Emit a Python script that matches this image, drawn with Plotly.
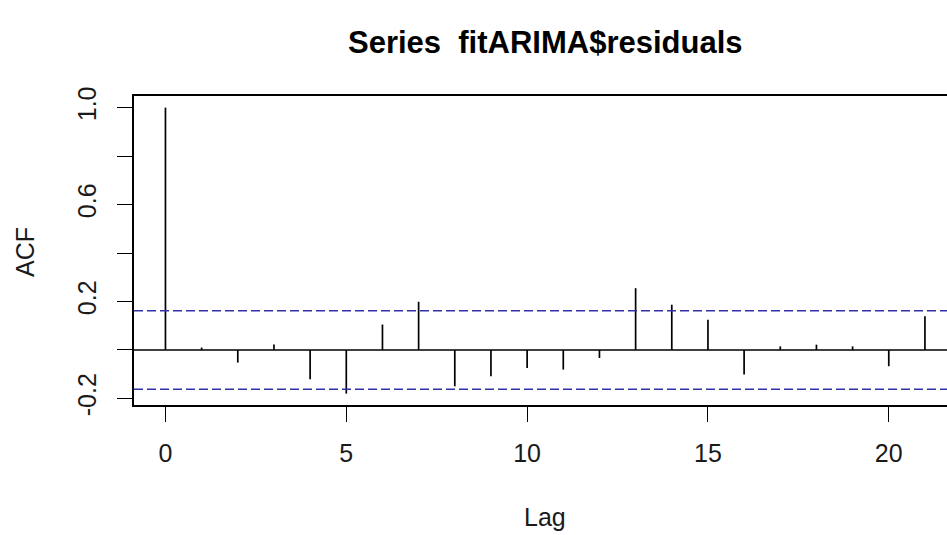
import plotly.graph_objects as go

# ACF values
lags = list(range(0, 22))
acf = [1.0, 0.010, -0.052, 0.023, -0.121, -0.180, 0.105, 0.199, -0.150, -0.108,
       -0.074, -0.081, -0.033, 0.255, 0.187, 0.125, -0.101, 0.015, 0.022, 0.015,
       -0.067, 0.139]
ci = 0.162
x_ticks = [0, 5, 10, 15, 20]
y_ticks = [-0.2, 0.0, 0.2, 0.4, 0.6, 0.8, 1.0]
y_tick_text = ["-0.2", "", "0.2", "", "0.6", "", "1.0"]

W, H = 947, 535
ML, MR, MT, MB = 134, 0, 96, 130
x_range = [-0.87, 21.61]
y_range = [-0.227, 1.048]

FONT = "Liberation Sans, Arial, sans-serif"

bx, by = [], []
for l, v in zip(lags, acf):
    bx += [l, l, None]
    by += [0, v, None]

fig = go.Figure()
fig.add_trace(go.Scatter(x=bx, y=by, mode="lines",
                         line=dict(color="black", width=1.7),
                         hoverinfo="skip", showlegend=False))

# zero line and confidence bounds
for yv, col, dash, w in [(0, "black", "solid", 1.5), (ci, "#3030a8", "9px,4px", 1.6),
                         (-ci, "#3030a8", "9px,4px", 1.6)]:
    fig.add_shape(type="line", xref="paper", yref="y", x0=0, x1=1, y0=yv, y1=yv,
                  line=dict(color=col, width=w, dash=dash), layer="above")

fig.update_layout(
    width=W, height=H,
    margin=dict(l=ML, r=MR, t=MT, b=MB, pad=0),
    paper_bgcolor="white", plot_bgcolor="white",
    font=dict(family=FONT, color="#1a1a1a", size=25),
    xaxis=dict(range=x_range, tickvals=x_ticks, ticktext=[str(t) for t in x_ticks],
               showgrid=False, zeroline=False, showline=True, mirror=True,
               linecolor="black", linewidth=1.5, ticks="outside", ticklen=15,
               tickwidth=1.4, tickcolor="black", ticklabelstandoff=10,
               tickfont=dict(size=25, family=FONT, color="#1a1a1a")),
    yaxis=dict(range=y_range, tickvals=y_ticks, ticktext=y_tick_text,
               showgrid=False, zeroline=False, showline=True, mirror=False,
               linecolor="black", linewidth=1.5, ticks="outside", ticklen=15,
               tickwidth=1.4, tickcolor="black", tickangle=-90,
               ticklabelstandoff=11,
               tickfont=dict(size=25, family=FONT, color="#1a1a1a")),
    annotations=[
        dict(text="<b>Series \u00a0fitARIMA$residuals</b>", xref="paper", yref="paper",
             x=(545 - ML) / (W - ML - MR), y=1 + (MT - 42) / (H - MT - MB),
             xanchor="center", yanchor="middle", showarrow=False,
             font=dict(size=31, family=FONT, color="black")),
        dict(text="Lag", xref="paper", yref="paper",
             x=(545 - ML) / (W - ML - MR), y=-(517 - MT - (H - MT - MB)) / (H - MT - MB),
             xanchor="center", yanchor="middle", showarrow=False,
             font=dict(size=25, family=FONT, color="#1a1a1a")),
        dict(text="ACF", xref="paper", yref="paper", textangle=-90,
             x=(25 - ML) / (W - ML - MR), y=(H - MB - 252) / (H - MT - MB),
             xanchor="center", yanchor="middle", showarrow=False,
             font=dict(size=25, family=FONT, color="#1a1a1a")),
    ],
)

fig.write_html("out.html")
